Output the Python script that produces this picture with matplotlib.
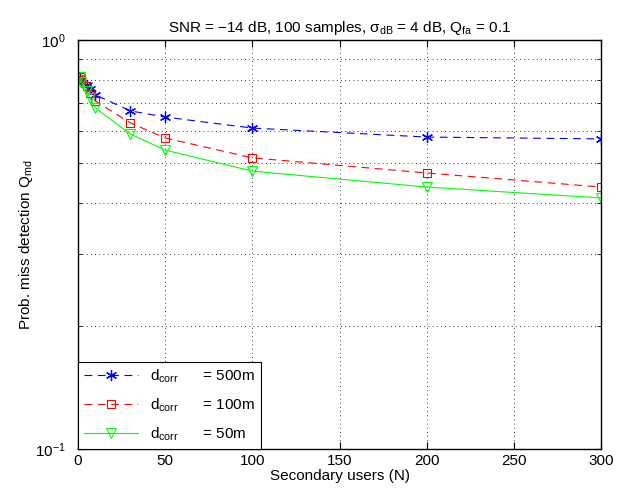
import matplotlib
matplotlib.use("Agg")
import matplotlib.pyplot as plt
import numpy as np
from matplotlib.ticker import LogLocator, NullFormatter, FixedLocator

plt.rcParams['font.family'] = ['Liberation Sans', 'DejaVu Sans']
plt.rcParams['mathtext.fontset'] = 'custom'
plt.rcParams['mathtext.rm'] = 'Liberation Sans'
plt.rcParams['mathtext.it'] = 'Liberation Sans'
plt.rcParams['mathtext.bf'] = 'Liberation Sans:bold'

N = [1, 2, 5, 7, 10, 30, 50, 100, 200, 300]
q_500 = [0.81, 0.79, 0.775, 0.759, 0.734, 0.671, 0.648, 0.609, 0.579, 0.573]
q_100 = [0.81, 0.80, 0.77, 0.74, 0.709, 0.627, 0.576, 0.515, 0.473, 0.437]
q_50 = [0.81, 0.79, 0.75, 0.72, 0.682, 0.589, 0.538, 0.478, 0.437, 0.411]
labels = [r'd$_{\rm corr}$      = 500m', r'd$_{\rm corr}$      = 100m', r'd$_{\rm corr}$      = 50m']

fig = plt.figure(figsize=(6.25, 4.93), dpi=100)
ax = fig.add_axes([0.1248, 0.0892, 0.8368, 0.8297])

ax.semilogy(N, q_500, color=(0, 0, 1), linestyle=(0, (7, 5)), linewidth=0.8,
            marker=(6, 2, 0), markersize=8, markeredgewidth=0.9, label=labels[0])
ax.semilogy(N, q_100, color=(1, 0, 0), linestyle=(0, (7, 5)), linewidth=0.8,
            marker='s', markersize=6, markerfacecolor='none', markeredgewidth=0.8, label=labels[1])
ax.semilogy(N, q_50, color=(0, 1, 0), linestyle='-', linewidth=0.8,
            marker='v', markersize=7.5, markerfacecolor='none', markeredgewidth=0.8, label=labels[2])

ax.set_xlim(0, 300)
ax.set_ylim(0.1, 1)
ax.xaxis.set_major_locator(FixedLocator([0, 50, 100, 150, 200, 250, 300]))
ax.yaxis.set_major_locator(LogLocator(base=10))
ax.yaxis.set_minor_locator(LogLocator(base=10, subs=np.arange(2, 10)))
ax.yaxis.set_minor_formatter(NullFormatter())

ax.grid(True, which='major', axis='x', linestyle=(0, (1, 4)), color='black', linewidth=0.6)
ax.grid(True, which='both', axis='y', linestyle=(0, (1, 4)), color='black', linewidth=0.6)

ax.tick_params(which='both', direction='in', top=True, right=True, labelsize=11)
ax.tick_params(which='major', length=5)
ax.tick_params(which='minor', length=3)
ax.tick_params(axis='y', which='major', pad=9)
for s in ax.spines.values():
    s.set_linewidth(1.0)

ax.set_title(r'SNR = −14 dB, 100 samples, $\sigma_{\rm dB}$ = 4 dB, Q$_{\rm fa}$ = 0.1', fontsize=11)
ax.set_xlabel('Secondary users (N)', fontsize=11, labelpad=1)
ax.set_ylabel(r'Prob. miss detection Q$_{\rm md}$', fontsize=11, labelpad=0)

leg = ax.legend(loc='lower left', fontsize=11, fancybox=False, edgecolor='black',
                framealpha=1, borderaxespad=0, handlelength=3.5, labelspacing=0.75)
leg.get_frame().set_linewidth(0.8)

fig.savefig('out.png', dpi=100)
